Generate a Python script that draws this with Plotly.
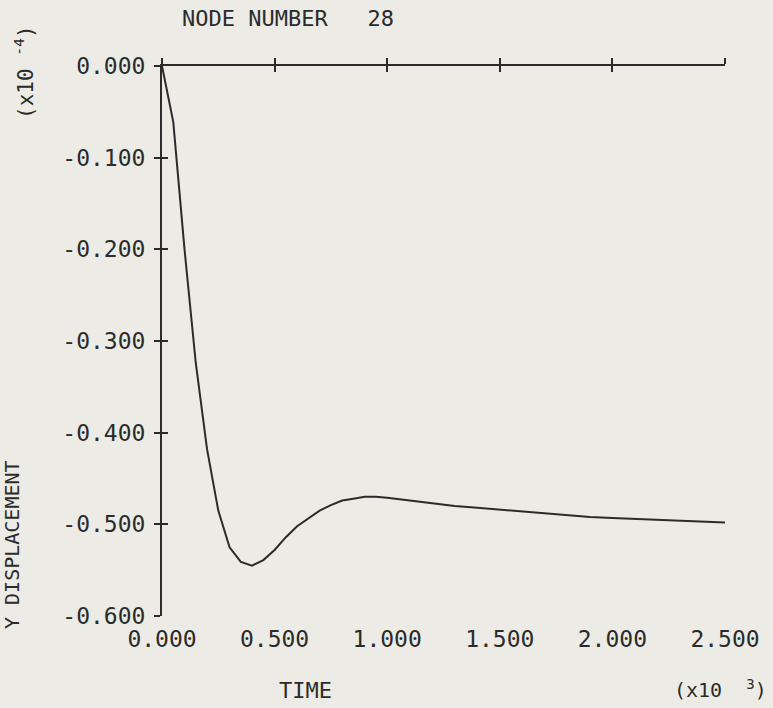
import plotly.graph_objects as go

# Data (time in units of 10^3, displacement in units of 10^-4)
time = [0.0, 0.05, 0.10, 0.15, 0.20, 0.25, 0.30, 0.35, 0.40, 0.45, 0.50, 0.55,
        0.60, 0.65, 0.70, 0.75, 0.80, 0.85, 0.90, 0.95, 1.00, 1.10, 1.20, 1.30,
        1.40, 1.50, 1.60, 1.70, 1.80, 1.90, 2.00, 2.10, 2.20, 2.30, 2.40, 2.50]
y_disp = [0.0, -0.061, -0.200, -0.324, -0.418, -0.485, -0.525, -0.541, -0.545,
          -0.539, -0.528, -0.514, -0.502, -0.493, -0.485, -0.479, -0.474, -0.472,
          -0.470, -0.470, -0.471, -0.474, -0.477, -0.480, -0.482, -0.484, -0.486,
          -0.488, -0.490, -0.492, -0.493, -0.494, -0.495, -0.496, -0.497, -0.498]

x_ticks = [0.0, 0.5, 1.0, 1.5, 2.0, 2.5]
x_tick_text = ["0.000", "0.500", "1.000", "1.500", "2.000", "2.500"]
y_ticks = [0.0, -0.1, -0.2, -0.3, -0.4, -0.5, -0.6]
y_tick_text = ["0.000", "-0.100", "-0.200", "-0.300", "-0.400", "-0.500", "-0.600"]

FONT = "DejaVu Sans Mono"
INK = "#2b2b2b"
BG = "#ecebe5"

W, H = 773, 708
L, T = 162, 66
PW, PH = 563, 550
R, B = W - L - PW, H - T - PH

def px(xs):
    return (xs - L) / PW

def py(ys):
    return (T + PH - ys) / PH

xr = [0, 2.5]
yr = [-0.6, 0]

fig = go.Figure()
fig.add_trace(go.Scatter(x=time, y=y_disp, mode="lines",
                         line=dict(color=INK, width=2), hoverinfo="skip",
                         showlegend=False))

common_ax = dict(showgrid=False, zeroline=False)
fig.update_layout(
    width=W, height=H,
    margin=dict(l=L, r=R, t=T, b=B),
    paper_bgcolor=BG, plot_bgcolor=BG,
    font=dict(family=FONT, color=INK, size=23),
    xaxis=dict(range=xr, tickvals=x_ticks, ticktext=x_tick_text,
               showline=False, ticks="outside", ticklen=2, tickcolor="rgba(0,0,0,0)",
               tickfont=dict(size=23, family=FONT, color=INK), **common_ax),
    xaxis2=dict(range=xr, overlaying="x", side="top", anchor="y",
                tickvals=x_ticks, showticklabels=False, showline=True,
                linecolor=INK, linewidth=2, ticks="outside", ticklen=6,
                tickwidth=2, tickcolor=INK, **common_ax),
    xaxis3=dict(range=xr, overlaying="x", side="top", anchor="y",
                tickvals=x_ticks, showticklabels=False, showline=False,
                ticks="inside", ticklen=6, tickwidth=2, tickcolor=INK, **common_ax),
    yaxis=dict(range=yr, tickvals=y_ticks, ticktext=y_tick_text,
               showline=True, linecolor=INK, linewidth=2,
               ticks="outside", ticklen=6, tickwidth=2, tickcolor=INK,
               ticklabelstandoff=4,
               tickfont=dict(size=23, family=FONT, color=INK), **common_ax),
    yaxis2=dict(range=yr, overlaying="y", side="left", anchor="x",
                tickvals=y_ticks, showticklabels=False, showline=False,
                ticks="inside", ticklen=6, tickwidth=2, tickcolor=INK, **common_ax),
)

# invisible traces so the overlay axes are drawn
fig.add_trace(go.Scatter(x=[None], y=[None], xaxis="x2", yaxis="y", showlegend=False, hoverinfo="skip"))
fig.add_trace(go.Scatter(x=[None], y=[None], xaxis="x3", yaxis="y2", showlegend=False, hoverinfo="skip"))

ann = [
    dict(text="NODE NUMBER   28", x=px(180), y=py(18), xanchor="left", yanchor="middle",
         font=dict(size=22)),
    dict(text="TIME", x=px(305), y=py(691), xanchor="center", yanchor="middle",
         font=dict(size=22)),
    dict(text="(x10  <sup>3</sup>)", x=px(769), y=py(689), xanchor="right", yanchor="middle",
         font=dict(size=20)),
    dict(text="Y DISPLACEMENT", x=px(12), y=py(545), xanchor="center", yanchor="middle",
         textangle=-90, font=dict(size=20)),
    dict(text="(x10 <sup>-4</sup>)", x=px(24), y=py(72), xanchor="center", yanchor="middle",
         textangle=-90, font=dict(size=21)),
]
for a in ann:
    a.update(xref="paper", yref="paper", showarrow=False)
fig.update_layout(annotations=ann)

fig.write_html("out.html",
               config={"displayModeBar": False},
               post_script="document.body.style.margin='0';document.body.style.overflow='hidden';")
